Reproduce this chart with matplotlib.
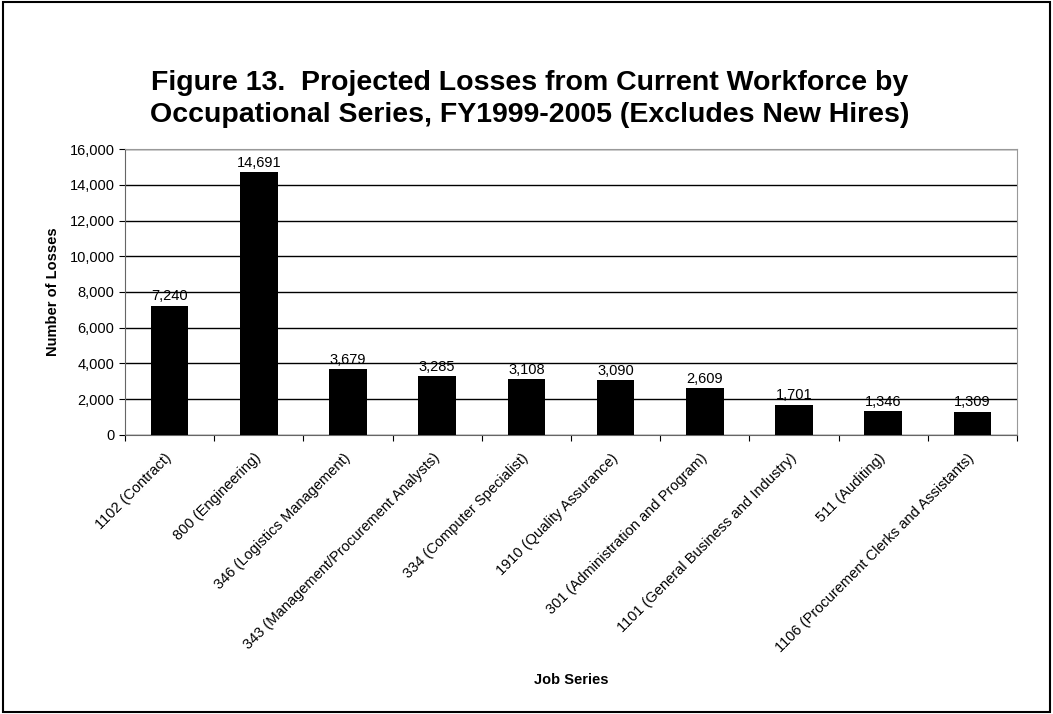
import matplotlib.pyplot as plt
from matplotlib.patches import Rectangle
from matplotlib.ticker import FuncFormatter

plt.rcParams['font.family'] = ['Liberation Sans', 'DejaVu Sans']

# job series and projected losses
series = ['1102 (Contract)', '800 (Engineering)', '346 (Logistics Management)',
          '343 (Management/Procurement Analysts)', '334 (Computer Specialist)',
          '1910 (Quality Assurance)', '301 (Administration and Program)',
          '1101 (General Business and Industry)', '511 (Auditing)',
          '1106 (Procurement Clerks and Assistants)']
losses = [7240, 14691, 3679, 3285, 3108, 3090, 2609, 1701, 1346, 1309]

fig = plt.figure(figsize=(10.53, 7.14), dpi=100)
ax = fig.add_axes([0.1187, 0.3908, 0.8471, 0.4005])

x = range(len(series))
bars = ax.bar(x, losses, width=0.42, color='black', zorder=3)
for b, v in zip(bars, losses):
    ax.text(b.get_x() + b.get_width() / 2, v + 120, f'{v:,}', ha='center',
            va='bottom', fontsize=10.5, zorder=4)

ax.set_xlim(-0.5, len(series) - 0.5)
ax.set_ylim(0, 16000)
ax.set_yticks(range(0, 16001, 2000))
ax.yaxis.set_major_formatter(FuncFormatter(lambda v, p: f'{int(v):,}'))
ax.set_xticks([i + 0.5 for i in range(-1, len(series))])
ax.set_xticklabels([])
ax.set_xticks(list(x), minor=True)
ax.set_xticklabels(series, minor=True, rotation=45, ha='right', va='center',
                   rotation_mode='anchor', fontsize=10.5)
ax.tick_params(axis='x', which='minor', length=0, pad=15)
ax.tick_params(axis='x', which='major', length=4, direction='out')
ax.tick_params(axis='y', length=4, direction='out', labelsize=10.5)
ax.grid(axis='y', color='black', linewidth=1, zorder=0)

for s in ['top', 'right']:
    ax.spines[s].set_color('#999999')
for s in ['left', 'bottom']:
    ax.spines[s].set_color('#666666')

ax.set_ylabel('Number of Losses', fontsize=10.5, fontweight='bold', labelpad=7)
ax.set_xlabel('Job Series', fontsize=10.5, fontweight='bold')
ax.xaxis.set_label_coords(0.5, -0.832)

fig.text(0.503, 0.862, 'Figure 13.  Projected Losses from Current Workforce by\n'
         'Occupational Series, FY1999-2005 (Excludes New Hires)',
         ha='center', va='center', fontsize=20.5, fontweight='bold', linespacing=1.3)

fig.patches.append(Rectangle((0.003, 0.003), 0.994, 0.994, transform=fig.transFigure,
                             fill=False, edgecolor='black', linewidth=1.5))

fig.savefig('out.png', dpi=100)
